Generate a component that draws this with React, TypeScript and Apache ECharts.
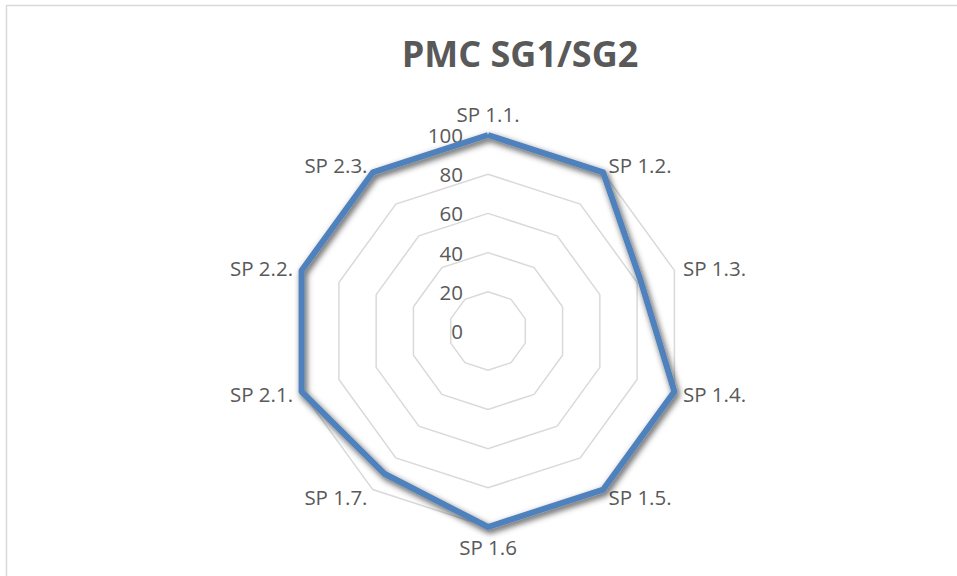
import React, { useEffect, useRef } from "react";
import * as echarts from "echarts";

const titleText = "PMC SG1/SG2";
const categories = [
  "SP 1.1.",
  "SP 1.2.",
  "SP 1.3.",
  "SP 1.4.",
  "SP 1.5.",
  "SP 1.6",
  "SP 1.7.",
  "SP 2.1.",
  "SP 2.2.",
  "SP 2.3.",
];
const values = [100, 100, 82, 100, 100, 100, 90, 100, 100, 100];
const axisMin = 0;
const axisMax = 100;
const splitCount = 5;

const FONT = "'Open Sans', 'Noto Sans', sans-serif";
const TEXT_COLOR = "#595959";

export default function App() {
  const ref = useRef<HTMLDivElement>(null);

  useEffect(() => {
    if (!ref.current) return;
    const chart = echarts.init(ref.current, undefined, { renderer: "svg" });
    // ECharts lays radar indicators counter-clockwise; reorder so they read clockwise
    const order = categories.map((_, i) => (i === 0 ? 0 : categories.length - i));
    const indicator = order.map((idx, k) => {
      const ind: any = { name: categories[idx], min: axisMin, max: axisMax };
      if (k === 0) {
        ind.axisLabel = {
          show: true,
          showMinLabel: true,
          showMaxLabel: true,
          color: TEXT_COLOR,
          fontSize: 20.5,
          fontFamily: FONT,
          margin: 25,
        };
      }
      return ind;
    });
    const ordered = order.map((idx) => values[idx]);

    chart.setOption({
      animation: false,
      backgroundColor: "#ffffff",
      graphic: [
        {
          type: "rect",
          shape: { x: 6.5, y: 5.5, width: 1000, height: 1000 },
          style: { fill: "none", stroke: "#d9d9d9", lineWidth: 1.5 },
          silent: true,
        },
        {
          type: "text",
          x: 520,
          y: 53,
          style: {
            text: titleText,
            fill: TEXT_COLOR,
            font: `bold 36px ${FONT}`,
            textAlign: "center",
            textVerticalAlign: "middle",
          },
        },
      ],
      radar: {
        center: [488, 331],
        radius: 196,
        startAngle: 90,
        splitNumber: splitCount,
        shape: "polygon",
        nameGap: 9,
        axisName: {
          color: TEXT_COLOR,
          fontSize: 20.5,
          fontFamily: FONT,
        },
        axisLine: { show: false },
        axisTick: { show: false },
        axisLabel: { show: false },
        splitArea: { show: false },
        splitLine: { lineStyle: { color: "#d9d9d9", width: 1.5 } },
        indicator,
      },
      series: [
        {
          type: "radar",
          symbol: "none",
          data: [
            {
              value: ordered,
              name: titleText,
              lineStyle: {
                color: "#4F81BD",
                width: 6,
                shadowColor: "rgba(0,0,0,0.7)",
                shadowBlur: 6,
                shadowOffsetX: 2,
                shadowOffsetY: 3,
              },
              itemStyle: { color: "#4F81BD" },
            },
          ],
        },
      ],
    });
    return () => chart.dispose();
  }, []);

  return (
    <div
      ref={ref}
      style={{ position: "absolute", left: 0, top: 0, width: 957, height: 576 }}
    />
  );
}
